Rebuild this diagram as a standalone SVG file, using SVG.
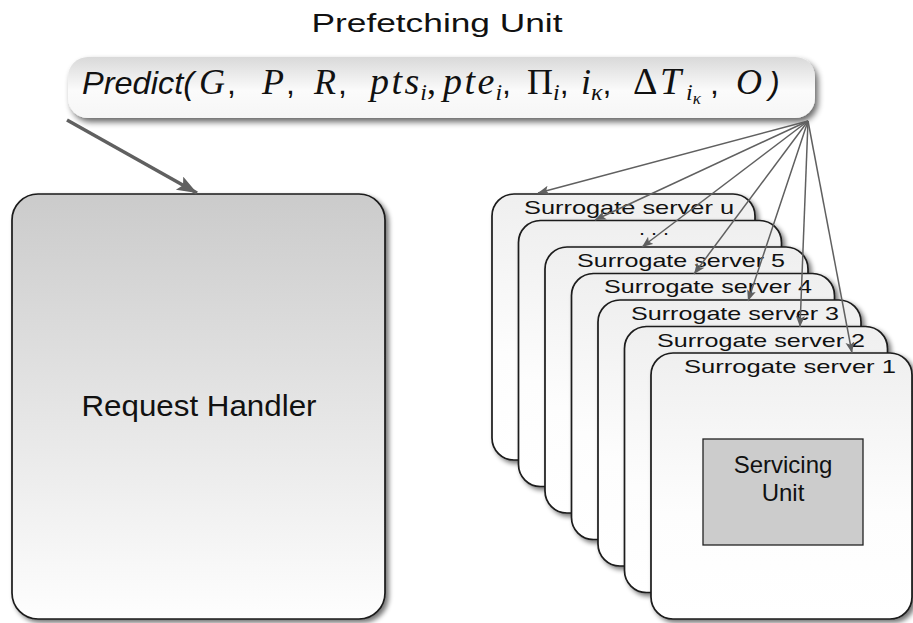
<svg xmlns="http://www.w3.org/2000/svg" width="913" height="623" viewBox="0 0 913 623">
<style>
.sans{font-family:"Liberation Sans",Arial,sans-serif;fill:#111}
.si{font-family:"Liberation Sans",Arial,sans-serif;font-style:italic;fill:#111}
.mi{font-family:"Liberation Serif","Times New Roman",serif;font-style:italic;fill:#111}
.mu{font-family:"Liberation Serif","Times New Roman",serif;font-style:normal;fill:#111}
.cm{font-family:"Liberation Sans",Arial,sans-serif;font-style:normal;font-size:32px;fill:#111}
.sub{font-size:24px}
.sub2{font-size:17px}
.card{fill:url(#gCard);stroke:#1a1a1a;stroke-width:1.7;filter:url(#sh)}
.lbl{font-family:"Liberation Sans",Arial,sans-serif;font-size:19px;fill:#111;text-anchor:middle}
.fan{stroke:#606060;stroke-width:1.5;fill:none;marker-end:url(#ah)}
</style>
<defs>
<linearGradient id="gCard" x1="0" y1="0" x2="0" y2="1"><stop offset="0" stop-color="#efefef"/><stop offset="0.6" stop-color="#fdfdfd"/><stop offset="1" stop-color="#ffffff"/></linearGradient>
<linearGradient id="gRH" x1="0" y1="0" x2="0" y2="1"><stop offset="0" stop-color="#cbcbcb"/><stop offset="1" stop-color="#fefefe"/></linearGradient>
<linearGradient id="gPred" x1="0" y1="0" x2="0" y2="1"><stop offset="0" stop-color="#d9d9d9"/><stop offset="0.55" stop-color="#fbfbfb"/><stop offset="1" stop-color="#f6f6f6"/></linearGradient>
<filter id="sh" x="-10%" y="-10%" width="130%" height="130%"><feGaussianBlur in="SourceAlpha" stdDeviation="2.5"/><feOffset dx="3" dy="3"/><feComponentTransfer><feFuncA type="linear" slope="0.55"/></feComponentTransfer><feMerge><feMergeNode/><feMergeNode in="SourceGraphic"/></feMerge></filter>
<filter id="sh2" x="-5%" y="-20%" width="110%" height="160%"><feGaussianBlur in="SourceAlpha" stdDeviation="3"/><feOffset dx="3" dy="4"/><feComponentTransfer><feFuncA type="linear" slope="0.6"/></feComponentTransfer><feMerge><feMergeNode/><feMergeNode in="SourceGraphic"/></feMerge></filter>
<marker id="ah" markerUnits="userSpaceOnUse" markerWidth="12" markerHeight="10" refX="11" refY="4.5" orient="auto"><path d="M0,0 L11,4.5 L0,9 L2.5,4.5 z" fill="#606060"/></marker>
<marker id="ahBig" markerUnits="userSpaceOnUse" markerWidth="22" markerHeight="16" refX="20" refY="7.5" orient="auto"><path d="M0,0 L20,7.5 L0,15 L4,7.5 z" fill="#606060"/></marker>
</defs>
<rect width="913" height="623" fill="#ffffff"/>

<g id="title">
<text class="sans" x="437" y="32" font-size="25" text-anchor="middle" textLength="251" lengthAdjust="spacingAndGlyphs">Prefetching Unit</text>
</g>

<g id="predict">
<rect x="68" y="57" width="747" height="61" rx="20" ry="20" fill="url(#gPred)" filter="url(#sh2)"/>
<text font-size="36">
<tspan class="si" font-size="32" x="82" y="94" textLength="112" lengthAdjust="spacingAndGlyphs">Predict(</tspan><tspan class="mi" x="199" y="94" letter-spacing="2">G</tspan><tspan class="cm" y="94">,</tspan><tspan class="mi" x="262" y="94" letter-spacing="2">P</tspan><tspan class="cm" y="94">,</tspan><tspan class="mi" x="314" y="94" letter-spacing="2">R</tspan><tspan class="cm" y="94">,</tspan><tspan class="mi" font-size="38" x="370" y="94" letter-spacing="2.5">pt</tspan><tspan class="mi" font-size="38" y="94">s</tspan><tspan class="mi sub" y="100" dx="1">i</tspan><tspan class="mu" y="94">,</tspan><tspan class="mi" font-size="38" x="443" y="94" letter-spacing="2.5">pt</tspan><tspan class="mi" font-size="38" y="94">e</tspan><tspan class="mi sub" y="100" dx="1">i</tspan><tspan class="cm" y="94">,</tspan><tspan class="mu" x="527" y="94">Π</tspan><tspan class="mi sub" y="100">i</tspan><tspan class="cm" y="94">,</tspan><tspan class="mi" x="581" y="94">i</tspan><tspan class="mi sub" y="100">κ</tspan><tspan class="cm" y="94">,</tspan><tspan class="mu" font-size="38" x="633" y="94">Δ</tspan><tspan class="mi" font-size="38" x="660" y="94">T</tspan><tspan class="mi sub" x="686" y="100">i</tspan><tspan class="mi sub2" y="104">κ</tspan><tspan class="cm" x="710" y="94">,</tspan><tspan class="mi" x="736" y="94">O</tspan><tspan class="si" font-size="32" x="769" y="94">)</tspan>
</text>
</g>

<g id="request-handler">
<rect x="12" y="194" width="373" height="425" rx="26" ry="26" fill="url(#gRH)" stroke="#1a1a1a" stroke-width="1.7" filter="url(#sh)"/>
<text class="sans" x="199" y="416" font-size="30" text-anchor="middle" textLength="235" lengthAdjust="spacingAndGlyphs">Request Handler</text>
</g>

<g id="surrogate-u">
<rect class="card" x="492" y="194" width="263" height="266" rx="22" ry="22"/>
<text class="lbl" x="629" y="214" textLength="210" lengthAdjust="spacingAndGlyphs">Surrogate server u</text>
</g>
<g id="surrogate-dots">
<rect class="card" x="518.5" y="220.5" width="263" height="266" rx="22" ry="22"/>
<text class="lbl" x="654" y="235" textLength="30" lengthAdjust="spacingAndGlyphs">. . .</text>
</g>
<g id="surrogate-5">
<rect class="card" x="545" y="247" width="263" height="266" rx="22" ry="22"/>
<text class="lbl" x="681" y="267" textLength="208" lengthAdjust="spacingAndGlyphs">Surrogate server 5</text>
</g>
<g id="surrogate-4">
<rect class="card" x="571.5" y="273.5" width="263" height="266" rx="22" ry="22"/>
<text class="lbl" x="708" y="293" textLength="208" lengthAdjust="spacingAndGlyphs">Surrogate server 4</text>
</g>
<g id="surrogate-3">
<rect class="card" x="598" y="300" width="263" height="266" rx="22" ry="22"/>
<text class="lbl" x="735" y="320" textLength="208" lengthAdjust="spacingAndGlyphs">Surrogate server 3</text>
</g>
<g id="surrogate-2">
<rect class="card" x="624.5" y="326.5" width="263" height="266" rx="22" ry="22"/>
<text class="lbl" x="761" y="347" textLength="208" lengthAdjust="spacingAndGlyphs">Surrogate server 2</text>
</g>
<g id="surrogate-1">
<rect class="card" x="651" y="353" width="261" height="266" rx="22" ry="22"/>
<text class="lbl" x="790" y="373" textLength="212" lengthAdjust="spacingAndGlyphs">Surrogate server 1</text>
</g>

<g id="servicing-unit">
<rect x="703" y="439" width="160" height="106" fill="#cccccc" stroke="#222" stroke-width="1.3"/>
<text class="sans" x="783" y="473" font-size="24" text-anchor="middle">Servicing</text>
<text class="sans" x="783" y="501" font-size="24" text-anchor="middle">Unit</text>
</g>

<g id="connectors">
<line x1="67" y1="120" x2="197" y2="193" stroke="#606060" stroke-width="3.5" marker-end="url(#ahBig)"/>
<line class="fan" x1="808" y1="121" x2="538" y2="193"/>
<line class="fan" x1="808" y1="121" x2="595" y2="220"/>
<line class="fan" x1="808" y1="121" x2="642" y2="247"/>
<line class="fan" x1="808" y1="121" x2="694" y2="274"/>
<line class="fan" x1="808" y1="121" x2="748" y2="301"/>
<line class="fan" x1="808" y1="121" x2="800" y2="327"/>
<line class="fan" x1="808" y1="121" x2="852" y2="353"/>
</g>
</svg>
